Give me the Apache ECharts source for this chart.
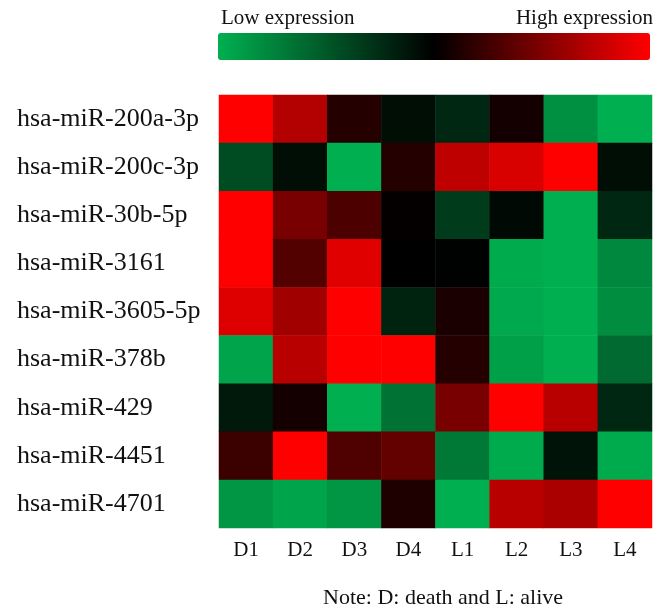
<!DOCTYPE html>
<html>
<head>
<meta charset="utf-8">
<script src="https://cdn.jsdelivr.net/npm/echarts@6/dist/echarts.min.js"></script>
<style>html,body{margin:0;padding:0;background:#fff;}#c{width:659px;height:615px;}</style>
</head>
<body>
<div id="c"></div>
<script>
const samples = ['D1','D2','D3','D4','L1','L2','L3','L4'];
const mirnas = ['hsa-miR-200a-3p','hsa-miR-200c-3p','hsa-miR-30b-5p','hsa-miR-3161','hsa-miR-3605-5p','hsa-miR-378b','hsa-miR-429','hsa-miR-4451','hsa-miR-4701'];
// relative expression, -1 = low (green), 0 = black, 1 = high (red)
const expr_200a = [1.0, 0.70, 0.14, -0.08, -0.22, 0.08, -0.82, -1.0];
const expr_200c = [-0.43, -0.08, -1.0, 0.14, 0.75, 0.85, 1.0, -0.08];
const expr_30b  = [1.0, 0.47, 0.30, 0.02, -0.34, -0.05, -1.0, -0.22];
const expr_3161 = [1.0, 0.32, 0.88, 0.0, -0.01, -0.97, -1.0, -0.77];
const expr_3605 = [0.87, 0.63, 1.0, -0.2, 0.10, -0.96, -1.0, -0.80];
const expr_378b = [-0.94, 0.72, 1.0, 1.0, 0.14, -0.91, -1.0, -0.60];
const expr_429  = [-0.14, 0.08, -1.0, -0.65, 0.47, 1.0, 0.72, -0.22];
const expr_4451 = [0.23, 1.0, 0.31, 0.39, -0.68, -0.97, -0.11, -0.97];
const expr_4701 = [-0.85, -0.94, -0.85, 0.12, -1.0, 0.72, 0.67, 1.0];
const rows = [expr_200a, expr_200c, expr_30b, expr_3161, expr_3605, expr_378b, expr_429, expr_4451, expr_4701];

const data = [];
rows.forEach((r, yi) => r.forEach((v, xi) => data.push([xi, yi, v])));

const FONT = "'Liberation Serif','Times New Roman',serif";
const chart = echarts.init(document.getElementById('c'), null, {renderer: 'canvas'});
chart.setOption({
  animation: false,
  backgroundColor: '#fff',
  grid: {left: 219, right: 7, top: 95, bottom: 87},
  xAxis: {
    type: 'category', data: samples, position: 'bottom',
    axisLine: {show: false}, axisTick: {show: false}, splitArea: {show: false},
    axisLabel: {fontFamily: FONT, fontSize: 21, color: '#111', margin: 12}
  },
  yAxis: {
    type: 'category', data: mirnas, inverse: true,
    axisLine: {show: false}, axisTick: {show: false},
    axisLabel: {fontFamily: FONT, fontSize: 26, color: '#111', align: 'left', margin: 202}
  },
  visualMap: {
    type: 'continuous', min: -1, max: 1, orient: 'horizontal',
    left: 218, top: 33, itemWidth: 27, itemHeight: 432, padding: 0,
    calculable: false, text: ['', ''], showLabel: false, hoverLink: false,
    inRange: {color: ['#00B050', '#000000', '#FF0000']}
  },
  graphic: [
    {type: 'text', left: 221, top: 8, style: {text: 'Low expression', font: '21px ' + FONT, fill: '#111'}},
    {type: 'text', right: 6, top: 8, style: {text: 'High expression', font: '21px ' + FONT, fill: '#111'}},
    {type: 'text', left: 323, top: 587, style: {text: 'Note: D: death and L: alive', font: '22px ' + FONT, fill: '#111'}}
  ],
  series: [{
    type: 'heatmap', data: data,
    itemStyle: {borderWidth: 0},
    emphasis: {disabled: true}
  }]
});
</script>
</body>
</html>
